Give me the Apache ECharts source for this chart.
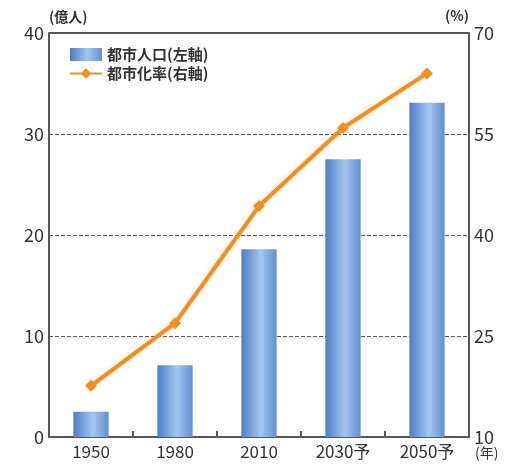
<!DOCTYPE html>
<html><head><meta charset="utf-8">
<script src="https://cdn.jsdelivr.net/npm/echarts@6/dist/echarts.min.js"></script>
<style>html,body{margin:0;padding:0;background:#fff}#c{width:509px;height:467px}</style>
</head><body><div id="c"></div>
<script>
var categories = ['1950', '1980', '2010', '2030予', '2050予'];
var urbanPopulation = [2.5, 7.1, 18.6, 27.5, 33.1];
var urbanizationRate = [17.6, 26.9, 44.3, 55.9, 64.0];
var leftTicks = [0, 10, 20, 30, 40];
var rightTicks = [10, 25, 40, 55, 70];

var font = '"Noto Sans CJK JP", "Noto Sans", sans-serif';
var chart = echarts.init(document.getElementById('c'));
chart.setOption({
  animation: false,
  textStyle: { fontFamily: font },
  grid: { left: 49, right: 40, top: 33, bottom: 30, containLabel: false, outerBoundsMode: 'none' },
  legend: {
    orient: 'vertical', left: 64, top: 42, itemGap: 4,
    itemWidth: 32, itemHeight: 13,
    textStyle: { fontSize: 15, color: '#333', fontFamily: font, fontWeight: 'bold' },
    data: [
      { name: '都市人口(左軸)', icon: 'rect' },
      { name: '都市化率(右軸)' }
    ]
  },
  xAxis: {
    type: 'category', data: categories,
    name: '(年)', nameLocation: 'end', nameGap: 6,
    nameTextStyle: { fontSize: 14, color: '#333', align: 'left', verticalAlign: 'top', padding: [9, 0, 0, 0] },
    axisLine: { lineStyle: { color: '#555', width: 2 } },
    axisTick: { show: true, inside: true, length: 6, lineStyle: { color: '#555', width: 2 } },
    axisLabel: { fontSize: 17, color: '#333', margin: 6 }
  },
  yAxis: [
    {
      type: 'value', min: leftTicks[0], max: leftTicks[leftTicks.length - 1], interval: 10,
      name: '(億人)', nameLocation: 'end', nameGap: 8,
      nameTextStyle: { fontSize: 14, color: '#333', align: 'left', fontWeight: 'bold' },
      axisLine: { show: true, lineStyle: { color: '#555', width: 2 } },
      axisTick: { show: false },
      axisLabel: { fontSize: 18, color: '#333', margin: 5 },
      splitLine: { show: true, lineStyle: { color: '#555', type: 'dashed', width: 1 } }
    },
    {
      type: 'value', min: rightTicks[0], max: rightTicks[rightTicks.length - 1], interval: 15,
      name: '(%)', nameLocation: 'end', nameGap: 10,
      nameTextStyle: { fontSize: 14, color: '#333', align: 'right', fontWeight: 'bold' },
      axisLine: { show: true, lineStyle: { color: '#555', width: 2 } },
      axisTick: { show: false },
      axisLabel: { fontSize: 18, color: '#333', margin: 5 },
      splitLine: { show: false }
    }
  ],
  graphic: [{
    type: 'rect', left: 49, top: 32, shape: { width: 420, height: 2 },
    style: { fill: '#555' }, z: 10
  }],
  series: [
    {
      name: '都市人口(左軸)', type: 'bar', data: urbanPopulation, yAxisIndex: 0,
      barWidth: '42%',
      itemStyle: {
        color: new echarts.graphic.LinearGradient(0, 0, 1, 0, [
          { offset: 0, color: '#4a7ec6' },
          { offset: 0.55, color: '#a4c6ec' },
          { offset: 1, color: '#5f90d2' }
        ])
      }
    },
    {
      name: '都市化率(右軸)', type: 'line', data: urbanizationRate, yAxisIndex: 1,
      symbol: 'diamond', symbolSize: 12,
      lineStyle: { color: '#ef8f22', width: 4, shadowColor: 'rgba(239,143,34,0.35)', shadowBlur: 4 },
      itemStyle: { color: '#ef8f22' },
      z: 5
    }
  ]
});
</script></body></html>
